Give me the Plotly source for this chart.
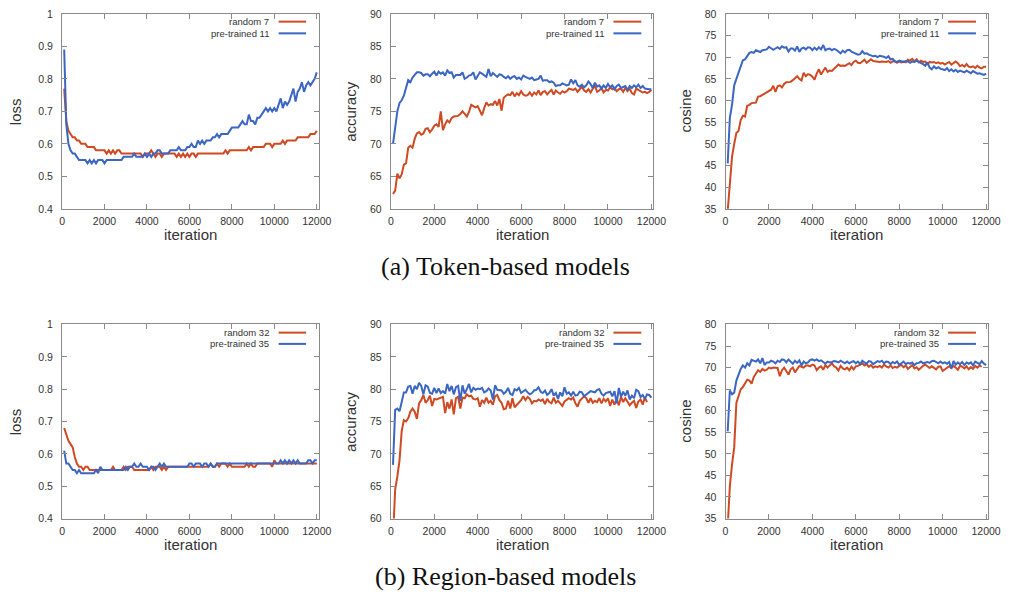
import plotly.graph_objects as go

# ---------------- data ----------------
iterations = list(range(100, 12001, 100))

tok_loss_rand = [
    0.77,0.67,0.64,0.63,0.62,0.62,0.61,0.61,0.60,0.60,
    0.60,0.59,0.59,0.59,0.59,0.58,0.58,0.58,0.58,0.58,
    0.57,0.58,0.57,0.58,0.57,0.58,0.58,0.57,0.57,0.57,
    0.57,0.57,0.57,0.57,0.57,0.57,0.57,0.56,0.57,0.57,
    0.57,0.58,0.57,0.56,0.57,0.57,0.56,0.57,0.57,0.57,
    0.57,0.57,0.57,0.56,0.57,0.56,0.57,0.56,0.57,0.56,
    0.57,0.57,0.56,0.57,0.57,0.57,0.57,0.57,0.57,0.57,
    0.57,0.57,0.57,0.57,0.57,0.57,0.58,0.57,0.58,0.58,
    0.58,0.58,0.58,0.58,0.58,0.58,0.58,0.59,0.58,0.59,
    0.59,0.59,0.59,0.59,0.59,0.60,0.60,0.60,0.59,0.60,
    0.60,0.60,0.60,0.61,0.60,0.61,0.61,0.61,0.61,0.61,
    0.62,0.62,0.62,0.62,0.62,0.62,0.63,0.63,0.63,0.64]
tok_loss_pre = [
    0.89,0.66,0.60,0.58,0.57,0.57,0.56,0.55,0.55,0.55,
    0.55,0.54,0.55,0.54,0.55,0.54,0.55,0.55,0.55,0.54,
    0.55,0.55,0.55,0.55,0.55,0.55,0.55,0.55,0.56,0.56,
    0.56,0.56,0.56,0.57,0.56,0.56,0.56,0.56,0.57,0.56,
    0.57,0.56,0.57,0.57,0.58,0.58,0.57,0.57,0.57,0.57,
    0.58,0.58,0.58,0.58,0.59,0.58,0.58,0.58,0.59,0.59,
    0.60,0.59,0.59,0.61,0.60,0.61,0.60,0.61,0.61,0.61,
    0.62,0.62,0.63,0.62,0.63,0.63,0.63,0.63,0.64,0.65,
    0.65,0.65,0.65,0.66,0.67,0.66,0.66,0.69,0.67,0.67,
    0.66,0.68,0.68,0.69,0.70,0.71,0.70,0.71,0.70,0.71,
    0.70,0.72,0.74,0.71,0.73,0.72,0.73,0.75,0.77,0.73,
    0.76,0.77,0.79,0.76,0.78,0.79,0.78,0.79,0.80,0.82]

tok_acc_rand = [
    62.3,62.8,65.4,64.7,65.3,66.8,67.0,69.4,69.7,69.4,
    70.8,71.6,71.8,71.4,71.6,72.3,72.4,71.8,72.2,72.8,
    73.0,72.6,75.0,72.1,73.0,73.6,73.3,74.0,74.2,74.2,
    74.3,74.6,75.0,74.6,74.2,74.9,76.0,75.8,75.6,75.8,
    75.2,74.4,75.5,76.4,75.9,76.1,76.0,76.6,75.9,76.9,
    75.1,77.1,77.4,77.6,77.5,78.0,77.3,77.8,77.5,78.1,
    77.6,77.4,77.5,77.9,77.4,77.9,77.6,78.2,77.5,78.0,
    78.1,77.6,78.0,78.3,77.6,78.2,77.9,77.7,78.1,77.9,
    78.1,78.5,78.4,78.3,78.5,78.0,78.4,78.8,78.2,78.0,
    78.4,77.9,78.5,78.9,78.0,78.2,78.6,77.9,78.3,78.2,
    78.7,78.4,78.6,78.1,78.4,78.5,78.0,78.6,78.1,78.5,
    77.8,77.6,78.5,78.3,78.1,77.9,78.0,77.8,78.0,78.3]
tok_acc_pre = [
    70.0,72.5,75.0,76.3,76.7,77.4,78.8,79.8,79.5,80.2,
    80.6,81.0,81.0,80.9,80.5,80.7,80.7,80.4,80.8,81.1,
    80.5,81.1,80.8,81.0,80.5,81.3,80.9,81.0,80.2,80.6,
    80.6,80.6,81.0,80.0,80.2,80.5,80.6,81.0,79.9,80.5,
    81.0,80.8,80.6,80.3,81.5,80.4,80.9,80.6,80.3,80.7,
    80.6,80.3,80.1,80.4,80.0,80.3,80.4,80.0,80.2,79.9,
    80.5,80.3,80.2,80.0,80.2,79.8,79.9,80.0,80.5,79.7,
    79.8,79.8,79.5,79.6,79.4,78.9,79.0,79.0,79.3,79.2,
    79.0,79.1,79.9,79.3,79.8,79.0,78.8,79.1,78.7,79.0,
    79.6,79.2,78.6,79.4,78.8,79.0,78.5,79.0,78.6,79.2,
    78.7,79.0,78.4,78.9,79.1,78.6,78.8,78.9,78.3,78.9,
    78.6,79.0,78.7,79.1,78.6,78.9,78.5,78.4,78.4,78.4]

tok_cos_rand = [
    34.5,42.0,47.0,50.0,52.5,53.0,55.5,56.5,56.3,58.8,
    59.0,59.4,59.5,59.5,60.9,61.0,61.3,61.6,62.0,62.2,
    62.5,63.4,62.0,63.3,63.5,63.0,63.8,64.2,64.2,64.3,
    64.7,65.2,65.6,65.0,64.6,66.4,65.6,66.1,65.9,65.5,
    64.8,66.2,67.2,66.0,66.9,67.6,66.6,66.9,66.8,67.3,
    67.6,68.3,68.0,68.1,68.0,68.3,68.6,68.2,68.9,69.2,
    68.7,68.6,69.0,69.4,68.7,69.0,69.5,69.1,69.0,69.0,
    68.9,69.0,69.0,68.9,69.1,68.7,69.0,69.1,68.7,69.0,
    68.8,69.0,68.8,69.4,69.2,69.6,69.0,69.5,68.8,69.2,
    68.9,69.0,68.4,68.9,68.8,68.9,68.6,68.8,68.5,68.7,
    68.3,68.7,68.9,68.3,68.7,69.0,68.6,67.9,68.2,67.8,
    68.4,67.8,67.7,67.9,67.5,68.0,67.6,67.4,67.8,67.8]
tok_cos_pre = [
    45.5,56.0,59.0,63.5,65.0,66.5,67.8,69.3,69.5,70.3,
    71.0,71.2,71.0,71.6,71.4,71.2,71.6,71.7,71.8,72.4,
    72.1,71.7,72.0,72.3,71.9,72.5,72.2,72.3,71.3,72.0,
    72.0,71.5,72.5,71.2,72.0,72.2,71.8,72.3,72.2,71.6,
    72.2,71.7,72.3,71.8,72.8,71.6,71.9,72.0,71.6,71.9,
    71.7,71.4,70.9,71.5,71.1,71.6,71.7,71.3,71.0,70.8,
    70.6,70.7,71.4,70.8,70.9,70.6,70.4,70.2,70.3,70.0,
    70.3,70.2,70.1,69.8,70.2,69.5,69.6,69.0,68.9,69.2,
    69.0,68.9,69.1,69.0,68.7,69.0,68.9,69.2,68.9,68.7,
    68.4,68.0,68.8,67.6,67.2,67.9,67.4,67.7,67.3,67.2,
    67.0,67.5,66.8,67.2,66.7,67.1,66.6,66.9,66.7,66.5,
    66.9,66.6,66.3,66.8,66.4,66.2,66.3,66.1,65.9,66.2]

reg_loss_rand = [
    0.68,0.66,0.64,0.63,0.62,0.59,0.57,0.56,0.56,0.55,
    0.56,0.56,0.55,0.55,0.55,0.55,0.55,0.55,0.55,0.55,
    0.55,0.55,0.55,0.56,0.55,0.55,0.55,0.55,0.56,0.55,
    0.56,0.56,0.56,0.55,0.55,0.55,0.55,0.55,0.55,0.55,
    0.55,0.56,0.55,0.56,0.56,0.56,0.55,0.56,0.55,0.56,
    0.56,0.56,0.56,0.56,0.56,0.56,0.56,0.56,0.56,0.56,
    0.56,0.56,0.56,0.56,0.56,0.56,0.56,0.56,0.56,0.57,
    0.56,0.56,0.57,0.56,0.57,0.57,0.57,0.56,0.57,0.56,
    0.56,0.56,0.56,0.56,0.56,0.56,0.57,0.56,0.57,0.56,
    0.56,0.57,0.57,0.57,0.57,0.57,0.57,0.57,0.56,0.58,
    0.57,0.57,0.57,0.57,0.57,0.57,0.57,0.57,0.57,0.57,
    0.57,0.57,0.57,0.57,0.57,0.57,0.57,0.57,0.57,0.57]
reg_loss_pre = [
    0.61,0.57,0.57,0.56,0.55,0.55,0.54,0.55,0.54,0.54,
    0.54,0.54,0.54,0.54,0.54,0.55,0.54,0.56,0.55,0.55,
    0.55,0.55,0.55,0.55,0.55,0.55,0.55,0.55,0.55,0.56,
    0.55,0.56,0.56,0.57,0.56,0.56,0.57,0.56,0.56,0.56,
    0.55,0.56,0.56,0.55,0.56,0.57,0.56,0.57,0.56,0.56,
    0.56,0.56,0.56,0.56,0.56,0.56,0.56,0.56,0.56,0.57,
    0.57,0.56,0.57,0.57,0.57,0.56,0.57,0.57,0.56,0.57,
    0.56,0.56,0.57,0.57,0.57,0.57,0.57,0.57,0.57,0.57,
    0.57,0.57,0.57,0.57,0.57,0.57,0.57,0.57,0.57,0.57,
    0.57,0.57,0.57,0.57,0.57,0.57,0.57,0.57,0.57,0.57,
    0.57,0.57,0.58,0.57,0.58,0.57,0.58,0.57,0.58,0.57,
    0.58,0.57,0.57,0.57,0.57,0.58,0.58,0.57,0.58,0.58]

reg_acc_rand = [
    57.0,64.5,66.5,69.0,73.5,75.2,75.0,75.5,76.5,77.0,
    76.5,75.4,77.8,78.3,79.1,77.9,78.3,79.0,77.4,78.5,
    78.4,78.5,78.6,78.8,76.3,78.0,77.0,78.4,76.1,78.6,
    78.8,77.0,78.7,78.6,79.2,78.9,79.0,78.5,78.4,78.6,
    77.3,78.3,77.9,78.7,77.9,78.2,77.6,78.9,79.1,78.3,
    77.9,76.9,77.0,78.2,77.0,78.6,77.2,77.6,78.0,78.3,
    78.9,78.3,78.8,78.5,77.8,78.2,78.1,78.4,78.2,78.4,
    77.7,78.5,78.0,77.8,78.7,77.9,78.2,77.8,77.4,78.1,
    78.4,78.6,78.4,78.7,77.8,77.3,78.2,78.5,78.9,78.6,
    77.9,78.6,77.9,78.2,78.0,78.6,77.8,78.5,78.1,78.6,
    77.4,78.4,77.6,78.5,77.5,78.8,78.0,78.6,78.0,77.5,
    77.9,78.2,77.1,78.1,78.4,77.6,78.7,78.0]
reg_acc_pre = [
    68.3,76.8,77.0,76.6,78.0,79.5,79.5,80.4,80.5,79.3,
    80.5,80.0,81.0,80.5,79.2,80.6,80.4,79.4,79.3,80.2,
    79.4,80.1,79.4,79.7,79.3,80.8,79.7,80.5,79.2,80.3,
    80.5,78.2,80.6,79.3,80.0,80.8,79.5,80.2,79.9,80.1,
    80.0,80.2,79.5,79.7,80.1,79.8,78.4,80.6,79.9,79.9,
    79.8,79.3,79.6,80.2,79.3,79.1,80.0,79.8,80.2,79.4,
    79.7,79.9,79.5,79.2,79.4,79.8,79.9,80.3,79.6,79.4,
    79.8,79.1,79.4,80.0,79.0,79.4,78.5,79.5,78.9,80.3,
    79.3,79.5,79.0,79.6,79.0,79.1,79.6,79.5,78.9,79.2,
    79.5,79.7,79.6,79.5,79.9,80.0,79.3,79.0,79.4,79.5,
    79.6,78.9,79.7,77.8,80.2,78.8,79.6,79.0,79.8,78.4,
    79.0,78.6,79.9,79.7,78.8,79.1,78.5,79.2,79.1,78.7]

reg_cos_rand = [
    33.0,42.5,47.5,51.5,61.8,63.5,65.0,65.5,66.3,67.2,
    67.0,66.3,67.8,68.6,69.4,69.0,69.7,69.3,69.5,70.0,
    69.8,70.0,70.0,69.9,68.0,69.4,70.0,69.3,68.4,69.6,
    70.0,68.9,69.8,70.4,70.2,70.0,70.5,70.5,70.3,70.7,
    70.5,69.4,70.0,70.3,69.5,70.6,70.0,70.5,71.0,70.3,
    70.0,69.3,70.4,69.8,69.6,70.0,69.4,70.2,69.6,70.3,
    70.4,70.7,71.0,70.5,70.8,70.2,70.6,70.0,70.3,70.1,
    70.4,70.0,70.7,70.3,70.0,70.5,69.9,70.2,70.0,70.4,
    70.6,70.1,70.5,69.7,70.2,70.6,69.8,70.1,69.5,70.0,
    70.4,70.7,70.2,69.9,70.3,70.0,69.6,70.2,70.3,69.2,
    69.6,70.1,70.3,69.9,70.4,70.0,69.5,70.4,70.2,69.8,
    70.3,69.6,70.1,69.7,70.4,70.0,70.5,70.2]
reg_cos_pre = [
    55.2,64.7,63.8,64.2,67.0,68.5,69.7,70.5,70.0,71.0,
    70.5,71.8,71.6,71.4,71.9,71.0,72.2,70.6,71.2,71.2,
    71.6,71.4,71.0,71.6,71.3,71.9,71.8,71.2,71.9,71.5,
    70.9,71.6,71.1,71.7,70.5,71.4,71.0,71.2,71.8,71.9,
    71.6,71.9,71.5,71.7,71.2,70.9,71.4,71.2,71.3,71.5,
    71.4,71.2,71.6,71.3,71.0,71.4,71.0,71.3,71.5,71.0,
    71.4,70.8,71.6,71.2,70.9,71.5,71.4,70.8,71.2,71.5,
    71.3,71.6,71.0,71.4,71.3,70.8,71.3,71.0,71.4,70.6,
    71.0,71.4,70.8,71.1,70.9,71.2,70.6,71.0,71.1,71.4,
    71.0,71.2,71.3,71.1,71.5,71.6,71.2,71.0,71.4,71.0,
    71.2,70.9,71.3,69.8,71.5,70.7,71.2,70.8,71.3,70.6,
    71.2,70.9,71.2,70.5,71.4,71.1,70.8,71.5,70.9,70.6]

x_ticks = [0, 2000, 4000, 6000, 8000, 10000, 12000]
x_labels = ["0", "2000", "4000", "6000", "8000", "10000", "12000"]
loss_ticks = [0.4, 0.5, 0.6, 0.7, 0.8, 0.9, 1.0]
loss_labels = ["0.4", "0.5", "0.6", "0.7", "0.8", "0.9", "1"]
acc_ticks = [60, 65, 70, 75, 80, 85, 90]
cos_ticks = [35, 40, 45, 50, 55, 60, 65, 70, 75, 80]

panels = [
    (0, 0, "loss", [0.4, 1.0], loss_ticks, loss_labels, tok_loss_rand, tok_loss_pre, "random 7", "pre-trained 11"),
    (0, 1, "accuracy", [60, 90], acc_ticks, None, tok_acc_rand, tok_acc_pre, "random 7", "pre-trained 11"),
    (0, 2, "cosine", [35, 80], cos_ticks, None, tok_cos_rand, tok_cos_pre, "random 7", "pre-trained 11"),
    (1, 0, "loss", [0.4, 1.0], loss_ticks, loss_labels, reg_loss_rand, reg_loss_pre, "random 32", "pre-trained 35"),
    (1, 1, "accuracy", [60, 90], acc_ticks, None, reg_acc_rand, reg_acc_pre, "random 32", "pre-trained 35"),
    (1, 2, "cosine", [35, 80], cos_ticks, None, reg_cos_rand, reg_cos_pre, "random 32", "pre-trained 35"),
]
captions = ["(a) Token-based models", "(b) Region-based models"]

# ---------------- styling ----------------
W, H = 1022, 599
RED = "#cf4a22"
BLUE = "#3b66c2"
FRAME = "#8a8a8a"
TXT = "#333333"
SANS = "Liberation Sans, Arial, sans-serif"

col_px = [(60, 320.7), (394, 660.7), (734, 1000.7)]
row_px = [(8, 207), (325, 523)]
title_y_px = [233, 549]
ylabel_x_px = [13, 353, 693]
caption_y_px = [266, 582]
leg_text_x = [0.813, 0.820, 0.820]
leg_line_x = [(0.844, 0.951), (0.848, 0.954), (0.848, 0.954)]
leg_rows_y = [(0.960, 0.900), (0.958, 0.900)]

fig = go.Figure()
annotations = []
shapes = []

for i, (r, c, ylab, yr, yt, ytl, yrand, ypre, nr, npre) in enumerate(panels):
    k = i + 1
    xa = "x" if k == 1 else f"x{k}"
    ya = "y" if k == 1 else f"y{k}"
    fig.add_trace(go.Scatter(x=iterations[:len(yrand)], y=yrand, mode="lines",
                             line=dict(color=RED, width=2), name=nr,
                             xaxis=xa, yaxis=ya, showlegend=False))
    fig.add_trace(go.Scatter(x=iterations[:len(ypre)], y=ypre, mode="lines",
                             line=dict(color=BLUE, width=2), name=npre,
                             xaxis=xa, yaxis=ya, showlegend=False))
    x0, x1 = col_px[c]
    y0, y1 = row_px[r]
    axis_common = dict(showline=True, linecolor=FRAME, linewidth=1, mirror="ticks",
                       ticks="inside", ticklen=5, tickcolor=FRAME, tickwidth=1,
                       showgrid=False, zeroline=False,
                       tickfont=dict(family=SANS, size=10.5, color=TXT))
    xkey = "xaxis" if k == 1 else f"xaxis{k}"
    ykey = "yaxis" if k == 1 else f"yaxis{k}"
    fig.layout[xkey] = dict(axis_common, domain=[x0 / W, x1 / W], range=[0, 12090],
                            tickvals=x_ticks, ticktext=x_labels, anchor=ya,
                            ticklabelstandoff=3)
    ydict = dict(axis_common, domain=[1 - y1 / H, 1 - y0 / H], range=yr,
                 tickvals=yt, ticktext=(ytl if ytl is not None else [str(v) for v in yt]),
                 anchor=xa, ticklabelstandoff=6)
    fig.layout[ykey] = ydict

    annotations.append(dict(text="iteration", xref="paper", yref="paper",
                            x=(x0 + x1) / 2 / W, y=1 - title_y_px[r] / H,
                            showarrow=False, font=dict(family=SANS, size=15, color=TXT),
                            xanchor="center", yanchor="middle"))
    annotations.append(dict(text=ylab, xref="paper", yref="paper", textangle=-90,
                            x=ylabel_x_px[c] / W, y=1 - (y0 + y1) / 2 / H,
                            showarrow=False, font=dict(family=SANS, size=15, color=TXT),
                            xanchor="center", yanchor="middle"))
    for name, color, yy in [(nr, RED, leg_rows_y[r][0]), (npre, BLUE, leg_rows_y[r][1])]:
        annotations.append(dict(text=name, xref=f"{xa} domain", yref=f"{ya} domain",
                                x=leg_text_x[c], y=yy, showarrow=False,
                                xanchor="right", yanchor="middle",
                                font=dict(family=SANS, size=9.5, color=TXT)))
        shapes.append(dict(type="line", xref=f"{xa} domain", yref=f"{ya} domain",
                           x0=leg_line_x[c][0], x1=leg_line_x[c][1], y0=yy, y1=yy,
                           line=dict(color=color, width=2)))

for r, cap in enumerate(captions):
    annotations.append(dict(text=cap, xref="paper", yref="paper", x=510 / W,
                            y=1 - caption_y_px[r] / H, showarrow=False,
                            xanchor="center", yanchor="middle",
                            font=dict(family="Liberation Serif, serif", size=26, color="#111111")))

fig.update_layout(width=W, height=H, margin=dict(l=0, r=0, t=0, b=0),
                  paper_bgcolor="white", plot_bgcolor="white",
                  annotations=annotations, shapes=shapes, showlegend=False)

fig.write_html("out.html")
